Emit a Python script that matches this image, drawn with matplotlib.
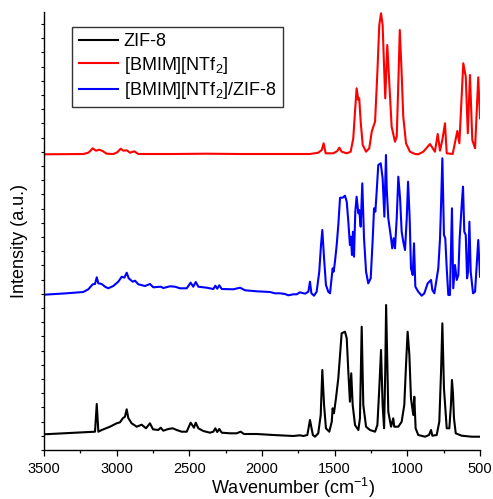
import matplotlib
matplotlib.use('Agg')
import matplotlib.pyplot as plt
from matplotlib.ticker import MultipleLocator

plt.rcParams['font.family'] = ['Liberation Sans', 'DejaVu Sans']
plt.rcParams['mathtext.default'] = 'regular'

# ZIF-8 spectrum (wavenumber, intensity in a.u., offset already included)
zif8_wn = [3500, 3149, 3137, 3126, 3103, 3046, 3000, 2977, 2958, 2943, 2931, 2920,
           2897, 2862, 2828, 2798, 2771, 2750, 2714, 2697, 2679, 2645, 2614, 2587,
           2553, 2518, 2491, 2468, 2456, 2438, 2404, 2358, 2335, 2321, 2308, 2294,
           2277, 2220, 2174, 2147, 2124, 2036, 1922, 1785, 1739, 1716, 1688, 1670,
           1650, 1635, 1613, 1596, 1585, 1573, 1560, 1537, 1520, 1514, 1505, 1491,
           1475, 1463, 1452, 1429, 1417, 1406, 1395, 1386, 1376, 1360, 1337, 1326,
           1314, 1303, 1284, 1257, 1222, 1206, 1193, 1181, 1170, 1160, 1152, 1146,
           1131, 1112, 1097, 1090, 1062, 1039, 1021, 1009, 998, 986, 975, 959, 952,
           943, 925, 878, 851, 837, 828, 798, 780, 768, 759, 748, 729, 711, 700, 693,
           686, 679, 667, 626, 557, 500]
zif8_int = [15.7, 18.3, 46, 18.3, 20, 23.3, 26.7, 27.7, 31.7, 33.3, 40.7, 32,
            26.7, 23.3, 25.3, 21.7, 26.7, 20.7, 20, 22.3, 19.3, 21, 21.7, 20,
            18.3, 18.3, 27.3, 22.3, 27.3, 21.7, 19, 17.3, 18.3, 21.7, 18, 21,
            17.3, 16.7, 16.7, 18.3, 16, 16, 15, 14, 14.7, 14, 15, 30,
            15, 13.3, 16.7, 35, 80, 45, 21.7, 18.3, 28.3, 41.7, 36.7, 51.7,
            71.7, 95, 116.7, 118.3, 111.7, 78.3, 48.3, 76.7, 45, 25, 20, 31.7,
            123.3, 45, 23.3, 20, 18.3, 25, 61.7, 100, 45, 21.7, 78.3, 145,
            38.3, 23.3, 31.7, 23.3, 23.3, 28.3, 45, 85, 118.3, 95, 51.7, 35, 53.3,
            21.7, 15, 13.3, 15, 20, 14.3, 15, 28.3, 78.3, 126.7, 61.7, 21.7, 21.7, 45, 70,
            56.7, 31.7, 16.7, 14.3, 13.3, 13.3]

# [BMIM][NTf2] spectrum
il_wn = [3500, 3230, 3195, 3180, 3165, 3142, 3120, 3097, 3069, 3023, 2996, 2972,
         2954, 2931, 2908, 2879, 2851, 2610, 2381, 2151, 1922, 1739, 1670, 1613,
         1589, 1576, 1562, 1509, 1482, 1468, 1452, 1417, 1390, 1372, 1360, 1349,
         1337, 1331, 1321, 1307, 1284, 1262, 1245, 1234, 1222, 1206, 1193, 1181,
         1170, 1160, 1152, 1138, 1124, 1108, 1085, 1073, 1062, 1052, 1041, 1028,
         1009, 982, 947, 925, 890, 844, 810, 791, 775, 757, 741, 729, 688, 656,
         642, 615, 598, 584, 569, 553, 534, 512, 500]
il_int = [295.7, 296, 297.3, 299.3, 301.7, 299.3, 300.3, 299, 296.3, 296, 297.7, 301.3,
          299.3, 299.7, 297.3, 298.7, 296, 296, 296.3, 296, 296, 296, 296, 297.3,
          300, 306.7, 296.7, 296.7, 299, 302.3, 298.3, 296.7, 298.3, 311.7, 338.3, 361.7,
          350, 351.7, 328.3, 305, 298.3, 301.7, 318.3, 323.3, 328.3, 378.3, 425, 436.7,
          425, 383.3, 351.7, 405, 366.7, 323.3, 308.3, 313.3, 366.7, 420, 383.3, 333.3,
          306.7, 298.3, 296, 295.7, 298.3, 306, 298.3, 316, 299.3, 311.7, 326.7, 296.7, 296, 319,
          306.7, 386.7, 373.3, 316.7, 375, 310, 301.7, 372.7, 331.7]

# [BMIM][NTf2]/ZIF-8 spectrum
comp_wn = [3500, 3344, 3230, 3195, 3165, 3149, 3137, 3126, 3103, 3080, 3058, 3023,
           2989, 2965, 2947, 2931, 2917, 2890, 2874, 2851, 2805, 2771, 2748, 2697,
           2679, 2633, 2599, 2564, 2518, 2491, 2473, 2456, 2438, 2381, 2335, 2321,
           2308, 2294, 2277, 2197, 2151, 2117, 2036, 1945, 1911, 1876, 1842, 1819,
           1785, 1761, 1739, 1704, 1681, 1670, 1660, 1642, 1624, 1606, 1594, 1585,
           1573, 1560, 1544, 1532, 1520, 1514, 1507, 1498, 1486, 1475, 1463, 1445,
           1429, 1417, 1406, 1395, 1388, 1381, 1374, 1367, 1358, 1349, 1337, 1331,
           1321, 1310, 1298, 1284, 1269, 1252, 1238, 1229, 1220, 1211, 1200, 1183,
           1170, 1158, 1147, 1142, 1131, 1112, 1104, 1094, 1085, 1073, 1062, 1050,
           1039, 1028, 1016, 1004, 995, 984, 975, 963, 954, 945, 925, 901, 883, 860,
           849, 837, 828, 814, 798, 787, 775, 768, 759, 748, 739, 729, 718, 707, 698,
           693, 684, 672, 660, 649, 640, 626, 617, 608, 598, 589, 582, 573, 564, 548,
           534, 523, 512, 500]
comp_int = [155.3, 156.7, 158, 160.7, 165.7, 166, 172.7, 166.7, 166, 163.3, 161.7, 164,
            168.3, 173.3, 172.3, 177.3, 171.7, 168.3, 169.3, 165.7, 164, 166, 162.7, 163.3,
            162, 163.7, 163.3, 161.7, 161.7, 167.3, 163.3, 168, 163.3, 162.3, 161, 164.3,
            161.3, 164.7, 161, 160.7, 162.3, 159.7, 158.7, 158, 156.7, 156.7, 156, 154.7,
            155.7, 155.7, 157.7, 156.3, 158.3, 168.3, 156.7, 154.3, 158.3, 178.3, 205, 220,
            191.7, 165, 158.3, 156.7, 173.3, 181.7, 178.3, 188.3, 205, 225, 252.3, 252.3,
            254.3, 248.3, 228.3, 205, 213.3, 195, 218.3, 193.3, 238.3, 253.3, 236.7, 240,
            223.3, 266.7, 211.7, 178.3, 166.7, 171.7, 211.7, 241.7, 238.3, 258.3, 285, 286.7,
            271.7, 233.3, 295, 261.7, 231.7, 211.7, 201.7, 211.7, 201.7, 231.7, 273.3, 251.7,
            218.3, 208.3, 200, 231.7, 268.3, 231.7, 181.7, 175, 206.7, 163.3, 158.3, 154.3, 156.7, 166.7,
            168.3, 170, 160, 156.7, 171.7, 181.7, 211.7, 245, 291.7, 215, 211.7, 181.7, 155, 155, 211.7,
            241.7, 161.7, 185, 170, 175, 211.7, 245, 263.3, 218.3, 215, 171.7, 178.3, 228.3, 178.3, 156.7,
            158.3, 185, 210, 173.3]

labels = ['ZIF-8', '[BMIM][NTf$_2$]', '[BMIM][NTf$_2$]/ZIF-8']
colors = ['black', 'red', 'blue']

fig = plt.figure(figsize=(4.93, 4.99), dpi=100)
ax = fig.add_axes([44 / 493, 1 - 450 / 499, 436 / 493, 438 / 499])

lw = 1.5
for wn, inten, c, lab in [(zif8_wn, zif8_int, colors[0], labels[0]),
                          (il_wn, il_int, colors[1], labels[1]),
                          (comp_wn, comp_int, colors[2], labels[2])]:
    ax.plot(wn, inten, color=c, lw=lw, label=lab, solid_joinstyle='round')

ax.set_xlim(3500, 500)
ax.set_ylim(0, 438)

ax.spines['top'].set_visible(False)
ax.spines['right'].set_visible(False)
for s in ['left', 'bottom']:
    ax.spines[s].set_linewidth(1.0)

ax.xaxis.set_major_locator(MultipleLocator(500))
ax.xaxis.set_minor_locator(MultipleLocator(250))
ax.tick_params(axis='x', which='major', direction='out', length=4.5, width=0.9,
               labelsize=10.5, pad=4)
ax.tick_params(axis='x', which='minor', direction='out', length=2.3, width=0.9)
ax.yaxis.set_major_locator(MultipleLocator(14.2))
ax.tick_params(axis='y', which='major', direction='out', length=2, width=0.8,
               labelleft=False)

ax.set_xlabel('Wavenumber (cm$^{-1}$)', fontsize=13)
ax.xaxis.set_label_coords(0.57, -0.058)
ax.set_ylabel('Intensity (a.u.)', fontsize=13)
ax.yaxis.set_label_coords(-0.036, 0.478)

leg = ax.legend(loc='upper left', bbox_to_anchor=(72.3 / 493, 1 - 26.7 / 499),
                bbox_transform=fig.transFigure, borderaxespad=0, fontsize=13,
                fancybox=False, framealpha=1, edgecolor='#333333',
                handlelength=2.2, handletextpad=0.3, labelspacing=0.25,
                borderpad=0.35)
leg.get_frame().set_linewidth(1.0)

fig.savefig('out.png', dpi=100)
